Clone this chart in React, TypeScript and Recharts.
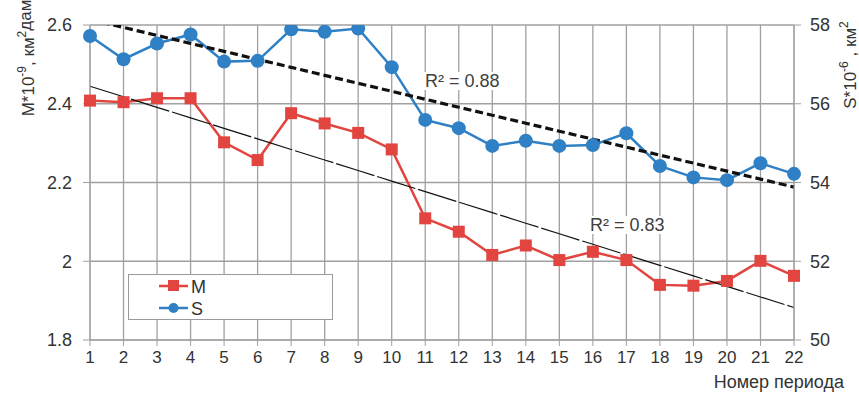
import { CartesianGrid, ComposedChart, Label, Legend, Line, XAxis, YAxis } from "recharts";

const periods = [1, 2, 3, 4, 5, 6, 7, 8, 9, 10, 11, 12, 13, 14, 15, 16, 17, 18, 19, 20, 21, 22];
const mValues = [
  2.408, 2.404, 2.414, 2.414, 2.302, 2.257, 2.376, 2.35, 2.326, 2.284, 2.109, 2.075, 2.016, 2.04, 2.003,
  2.024, 2.003, 1.94, 1.938, 1.95, 2.001, 1.963,
];
const sValues = [
  57.72, 57.13, 57.53, 57.76, 57.07, 57.09, 57.89, 57.83, 57.91, 56.93, 55.59, 55.38, 54.93, 55.06, 54.93,
  54.95, 55.25, 54.42, 54.13, 54.06, 54.49, 54.22,
];
const leftTicks = [1.8, 2, 2.2, 2.4, 2.6];
const rightTicks = [50, 52, 54, 56, 58];
const seriesNames = ["M", "S"];
const r2Labels = ["R² = 0.88", "R² = 0.83"];

const RED = "#e2453f";
const BLUE = "#2f80c4";
const GRID = "#a0a0a0";
const TEXT = "#333333";
const FONT = "'Liberation Sans', Arial, sans-serif";

// least-squares line, like the Excel trendline
function linearFit(xs: number[], ys: number[]) {
  const n = xs.length;
  const mx = xs.reduce((a, b) => a + b, 0) / n;
  const my = ys.reduce((a, b) => a + b, 0) / n;
  let sxy = 0;
  let sxx = 0;
  xs.forEach((x, i) => {
    sxy += (x - mx) * (ys[i] - my);
    sxx += (x - mx) * (x - mx);
  });
  const slope = sxy / sxx;
  return xs.map((x) => my + slope * (x - mx));
}

const mTrend = linearFit(periods, mValues);
const sTrend = linearFit(periods, sValues);

const rows = periods.map((p, i) => ({
  period: p,
  M: mValues[i],
  S: sValues[i],
  mTrend: mTrend[i],
  sTrend: sTrend[i],
}));

const SquareDot = (props: any) => {
  const { cx, cy, index } = props;
  if (cx == null || cy == null) return <g key={`sq-${index}`} />;
  return <rect key={`sq-${index}`} x={cx - 6} y={cy - 6} width={12} height={12} fill={RED} />;
};

const LeftTitle = () => (
  <text
    x={28}
    y={58}
    transform="rotate(-90, 28, 58)"
    textAnchor="middle"
    dominantBaseline="central"
    fontSize={17}
    fill={TEXT}
    fontFamily={FONT}
  >
    M*10
    <tspan dy={-6} fontSize={12}>-9</tspan>
    <tspan dy={6}>, км</tspan>
    <tspan dy={-6} fontSize={12}>2</tspan>
    <tspan dy={3}>дам</tspan>
  </text>
);

const RightTitle = () => (
  <text
    x={850}
    y={65}
    transform="rotate(-90, 850, 65)"
    textAnchor="middle"
    dominantBaseline="central"
    fontSize={17}
    fill={TEXT}
    fontFamily={FONT}
  >
    S*10
    <tspan dy={-6} fontSize={12}>-6</tspan>
    <tspan dy={6}> , км</tspan>
    <tspan dy={-6} fontSize={12}>2</tspan>
  </text>
);

const XTitle = () => (
  <text x={844} y={388} textAnchor="end" fontSize={18} fill={TEXT} fontFamily={FONT}>
    Номер периода
  </text>
);

const LegendBox = () => (
  <div
    style={{
      width: 205,
      height: 46,
      boxSizing: "border-box",
      border: "1px solid #9a9a9a",
      background: "#fff",
    }}
  >
    <svg width={203} height={44}>
      <line x1={30} x2={59} y1={11} y2={11} stroke={RED} strokeWidth={2.5} />
      <rect x={39} y={5} width={11} height={11} fill={RED} />
      <text x={62} y={18} fontSize={18} fill={TEXT} fontFamily={FONT}>
        {seriesNames[0]}
      </text>
      <line x1={30} x2={59} y1={33} y2={33} stroke={BLUE} strokeWidth={2.5} />
      <circle cx={44.5} cy={33} r={5} fill={BLUE} />
      <text x={62} y={40} fontSize={18} fill={TEXT} fontFamily={FONT}>
        {seriesNames[1]}
      </text>
    </svg>
  </div>
);

const r2Style = {
  position: "absolute" as const,
  fontSize: 18,
  color: "#404040",
  background: "#fff",
  fontFamily: FONT,
  lineHeight: "18px",
  padding: "0 1px",
};

export default function App() {
  const tick = { fontSize: 18, fill: TEXT, fontFamily: FONT };
  const xTick = { fontSize: 17, fill: TEXT, fontFamily: FONT };
  return (
    <div style={{ position: "absolute", left: 0, top: 0, width: 859, height: 399, background: "#fff" }}>
      <ComposedChart width={859} height={399} data={rows} margin={{ top: 25, right: 0, bottom: 29, left: 0 }}>
        <CartesianGrid yAxisId="left" stroke={GRID} strokeWidth={1.3} />
        <XAxis
          dataKey="period"
          type="number"
          domain={[1, 22]}
          ticks={periods}
          interval={0}
          height={30}
          tickSize={6}
          tickMargin={5}
          stroke={GRID}
          tick={xTick}
        >
          <Label content={XTitle} />
        </XAxis>
        <YAxis
          yAxisId="left"
          domain={[1.8, 2.6]}
          ticks={leftTicks}
          width={90}
          tickSize={7}
          tickMargin={11}
          stroke={GRID}
          tick={tick}
        >
          <Label content={LeftTitle} />
        </YAxis>
        <YAxis
          yAxisId="right"
          orientation="right"
          domain={[50, 58]}
          ticks={rightTicks}
          allowDataOverflow
          width={65}
          tickSize={7}
          tickMargin={9}
          stroke={GRID}
          tick={tick}
        >
          <Label content={RightTitle} />
        </YAxis>
        <Line
          yAxisId="left"
          dataKey="M"
          stroke={RED}
          strokeWidth={2.5}
          dot={SquareDot}
          isAnimationActive={false}
        />
        <Line
          yAxisId="right"
          dataKey="S"
          stroke={BLUE}
          strokeWidth={2.5}
          dot={{ r: 7, fill: BLUE, stroke: BLUE, strokeWidth: 0 }}
          isAnimationActive={false}
        />
        <Line
          yAxisId="left"
          dataKey="mTrend"
          stroke="#111"
          strokeWidth={1.2}
          strokeDasharray="40 3"
          dot={false}
          isAnimationActive={false}
        />
        <Line
          yAxisId="right"
          dataKey="sTrend"
          stroke="#111"
          strokeWidth={3.2}
          strokeDasharray="8 4"
          dot={false}
          isAnimationActive={false}
        />
        <Legend
          layout="horizontal"
          verticalAlign="middle"
          align="center"
          content={LegendBox}
          wrapperStyle={{ position: "absolute", left: 128, top: 274, width: 205, height: 46 }}
        />
      </ComposedChart>
      <div style={{ ...r2Style, left: 424, top: 72 }}>{r2Labels[0]}</div>
      <div style={{ ...r2Style, left: 589, top: 216 }}>{r2Labels[1]}</div>
    </div>
  );
}
